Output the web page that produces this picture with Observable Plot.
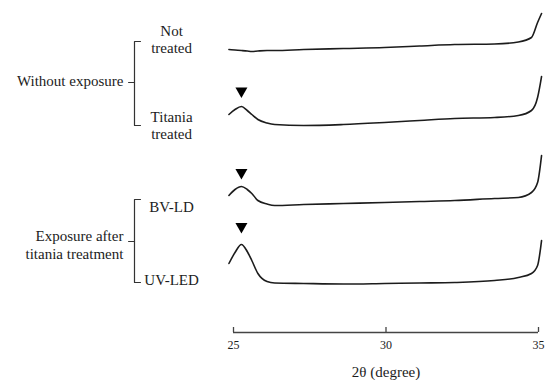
<!DOCTYPE html>
<html>
<head>
<meta charset="utf-8">
<script src="https://cdn.jsdelivr.net/npm/d3@7"></script>
<script src="https://cdn.jsdelivr.net/npm/@observablehq/plot@0.6"></script>
<style>
  html, body { margin: 0; padding: 0; background: #fff; }
  #chart svg { display: block; }
</style>
</head>
<body>
<div id="chart"></div>
<script>
// 2θ sampling positions (degree)
const twoTheta = [24.85, 25.05, 25.26, 25.45, 25.6, 25.8, 26.1, 26.35, 27.3, 28.6, 29.95, 31.1, 32.25, 33.56, 34.34, 34.77, 34.97, 35.1];

// Intensities (a.u.) relative to each pattern's baseline
const notTreated     = [0, -0.5, -1, -1.5, -2, -1.5, -1, -1, 0, 1, 2, 3.5, 5, 5.5, 7.5, 12, 27, 36];
const titaniaTreated = [11, 16, 19, 15, 11, 6, 2.5, 1, 0, 1, 3, 5, 7, 8, 10, 15, 28, 49];
const bvLd           = [9, 15, 18, 15, 11, 4, 0.5, -1, 0, 1, 2, 3, 4, 6, 7, 12, 22, 49];
const uvLed          = [20, 31, 39, 32, 23, 10, 2, 0.5, 0, -0.5, 0, 0.5, 1, 3, 6, 10, 18, 43];

const samples = ["Not\ntreated", "Titania\ntreated", "BV-LD", "UV-LED"];
const patterns = [notTreated, titaniaTreated, bvLd, uvLed];
const offsets = [283, 207, 128, 49];          // vertical stacking offsets (a.u.)
const sampleLabelY = [293, 207, 126, 53];     // label centres (a.u.)

// Anatase peak markers (▼): position and height above baseline
const peakTheta = [25.26, 25.26, 25.26];
const peakSeries = [1, 2, 3];
const peakHeight = [34.5, 32, 57];

// Group labels with brackets
const groupLabels = ["Without exposure", "Exposure after\ntitania treatment"];
const groupLabelY = [252, 88];
const bracketTop = [291, 133];
const bracketBottom = [207, 50];
const bracketMid = [250, 91];

const xTicks = [25, 30, 35];

// layout columns left of the frame (in 2θ units, outside the plotted domain)
const colGroupLabel = 21.39, colTick = 21.56, colBracket = 21.754, colSerif = 21.95, colSample = 22.97;

const lineData = [];
patterns.forEach((arr, s) => arr.forEach((v, i) => lineData.push({series: samples[s], x: twoTheta[i], y: offsets[s] + v})));

const peaks = peakTheta.map((x, i) => ({x, y: offsets[peakSeries[i]] + peakHeight[i]}));

const bracketPaths = [];
groupLabels.forEach((g, i) => {
  [[colSerif, bracketTop[i]], [colBracket, bracketTop[i]], [colBracket, bracketBottom[i]], [colSerif, bracketBottom[i]]]
    .forEach(([x, y]) => bracketPaths.push({g: g + "-b", x, y}));
  [[colTick, bracketMid[i]], [colBracket, bracketMid[i]]]
    .forEach(([x, y]) => bracketPaths.push({g: g + "-t", x, y}));
});

const ink = "#1c1c1c";
const font = "'Liberation Serif', 'Times New Roman', serif";

const chart = Plot.plot({
  width: 549,
  height: 380,
  marginLeft: 233,
  marginRight: 11,
  marginTop: 0,
  marginBottom: 48,
  style: {fontFamily: font, background: "#fff", color: ink, overflow: "visible"},
  x: {domain: [25, 35]},
  y: {domain: [0, 332], axis: null},
  marks: [
    Plot.ruleY([0], {stroke: "#444", strokeWidth: 1.3}),
    Plot.ruleX(xTicks, {y1: 0, y2: 5, stroke: "#444", strokeWidth: 1.3}),
    Plot.axisX({ticks: xTicks, tickSize: 0, tickPadding: 8, fontSize: 12, label: null, tickFormat: d => String(d)}),
    Plot.text(["2θ (degree)"], {frameAnchor: "bottom", dy: 44, fontSize: 15, fill: ink}),
    Plot.line(lineData, {x: "x", y: "y", z: "series", curve: "monotone-x", stroke: ink, strokeWidth: 1.6}),
    Plot.dot(peaks, {x: "x", y: "y", symbol: "triangle", r: 4.45, rotate: 180, fill: "#000", stroke: null}),
    Plot.line(bracketPaths, {x: "x", y: "y", z: "g", stroke: "#333", strokeWidth: 1.2}),
    Plot.text(samples, {x: colSample, y: (d, i) => sampleLabelY[i], text: d => d, textAnchor: "middle", lineHeight: 1.13, fontSize: 15, fill: ink}),
    Plot.text(groupLabels, {x: colGroupLabel, y: (d, i) => groupLabelY[i], text: d => d, textAnchor: "end", lineHeight: 1.2, fontSize: 15, fill: ink})
  ]
});
document.getElementById("chart").appendChild(chart);
</script>
</body>
</html>
